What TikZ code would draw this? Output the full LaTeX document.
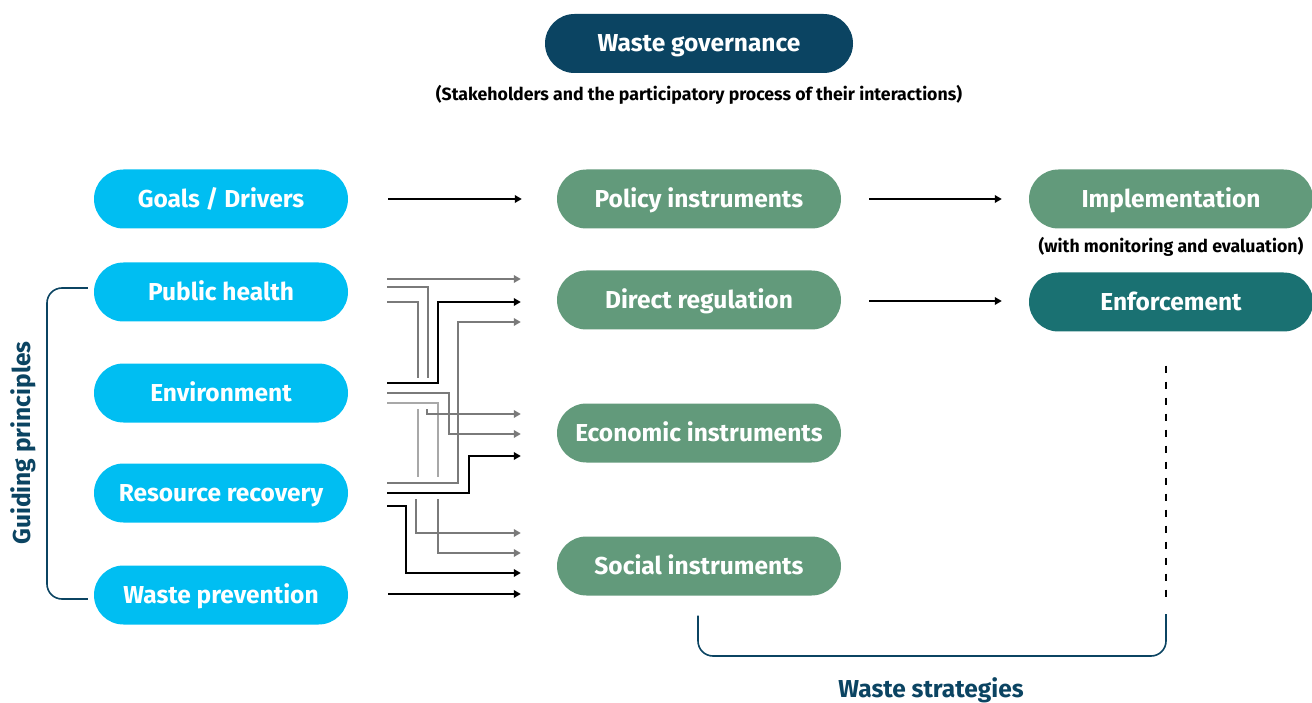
\documentclass[tikz,border=0pt]{standalone}
\usepackage{fontspec}
\setmainfont{Fira Sans}
\usetikzlibrary{arrows.meta,calc}
\definecolor{navy}{HTML}{0B4462}
\definecolor{cyanbox}{HTML}{00BEF2}
\definecolor{greenbox}{HTML}{629A7B}
\definecolor{tealbox}{HTML}{1A7172}
\definecolor{gline}{HTML}{7A7A7A}
\definecolor{lgline}{HTML}{A8A8A8}
\tikzset{
  pill/.style={rectangle, rounded corners=29.5pt, minimum height=59pt, text=white,
    font=\fontsize{24.5}{28}\selectfont\bfseries, inner sep=0pt, text height=17pt, text depth=0pt},
  leftpill/.style={pill, fill=cyanbox, minimum width=254pt},
  midpill/.style={pill, fill=greenbox, minimum width=284pt},
  note/.style={font=\fontsize{17.7}{21}\selectfont\bfseries, text=black, inner sep=0pt},
  conn/.style={line width=2pt, -{Triangle[length=7pt,width=7.5pt]}},
  plain/.style={line width=2pt},
  blk/.style={draw=black, color=black},
  gry/.style={draw=gline, color=gline},
  lgry/.style={draw=lgline, color=lgline},
  brace/.style={draw=navy, line width=1.6pt, rounded corners=15pt},
  biglabel/.style={text=navy, font=\fontsize{24.5}{28}\selectfont\bfseries, inner sep=0pt},
}
\begin{document}
\begin{tikzpicture}[x=1pt,y=-1pt]
\useasboundingbox (0,0) rectangle (1312,703);

% top
\node[pill, fill=navy, minimum width=308pt] (gov) at (699,43.5) {Waste governance};
\node[note] (sub) at (699,95) {(Stakeholders and the participatory process of their interactions)};

% left column
\node[leftpill] (goals) at (221,199) {Goals / Drivers};
\node[leftpill] (ph) at (221,292) {Public health};
\node[leftpill] (env) at (221,393) {Environment};
\node[leftpill] (rr) at (221,493) {Resource recovery};
\node[leftpill] (wp) at (221,595) {Waste prevention};

% middle column
\node[midpill] (pol) at (699,199) {Policy instruments};
\node[midpill] (dr) at (699,300) {Direct regulation};
\node[midpill] (eco) at (699,433) {Economic instruments};
\node[midpill] (soc) at (699,566) {Social instruments};

% right column
\node[midpill] (impl) at (1171,199) {Implementation};
\node[note] (mon) at (1171,247) {(with monitoring and evaluation)};
\node[pill, fill=tealbox, minimum width=284pt] (enf) at (1171,302) {Enforcement};

% labels
\node[biglabel, rotate=90] (gp) at (23,443) {Guiding principles};
\node[biglabel] (ws) at (931,690) {Waste strategies};

% brackets
\coordinate (gpt) at ($(ph.west)+(-6,-4)$);
\coordinate (gpb) at ($(wp.west)+(-6,4)$);
\draw[brace] (gpt) -- (47,288) -- (47,599) -- (gpb);
\coordinate (wsl) at ($(soc.south)+(-1,20)$);
\coordinate (wsr) at (1166,614);
\draw[brace] (wsl) -- (698,656) -- (1166,656) -- (wsr);
\coordinate (dtop) at ($(enf.south)+(-5,34)$);
\draw[line width=2pt, dash pattern=on 7pt off 9pt] (dtop) -- (1166,603);

% main arrows
\draw[conn, blk] ($(goals.east)+(40,0)$) -- ($(pol.west)+(-35,0)$);
\draw[conn, blk] ($(pol.east)+(28,0)$) -- ($(impl.west)+(-27,0)$);
\draw[conn, blk] ($(dr.east)+(28,1)$) -- ($(enf.west)+(-27,-1)$);
\draw[conn, blk] ($(wp.east)+(40,-1)$) -- ($(soc.west)+(-36,28)$);

% light grey (drawn first, underneath)
\draw[plain, lgry] ($(env.east)+(39,10)$) -| (438,477);
\draw[plain, lgry] (418,409) -- (418,477);

% from public health
\draw[conn, gry] ($(ph.east)+(39,-13)$) -- ($(dr.west)+(-36,-21)$);
\draw[plain, gry] ($(ph.east)+(39,-5)$) -| (428,378);
\draw[plain, gry] ($(ph.east)+(39,10)$) -| (418,378);

% from environment
\draw[conn, gry] ($(env.east)+(39,0)$) -| (449,434) -- ($(eco.west)+(-36,1)$);
\draw[conn, gry] (427,409) |- ($(eco.west)+(-36,-19)$);

% from resource recovery
\draw[conn, gry] ($(rr.east)+(39,-10)$) -| (458,322) -- ($(dr.west)+(-36,22)$);
\draw[conn, gry] (416,499) |- ($(soc.west)+(-36,-33)$);
\draw[conn, gry] (438,499) |- ($(soc.west)+(-36,-13)$);
\draw[conn, blk] ($(env.east)+(39,-10)$) -| (438,302) -- ($(dr.west)+(-36,2)$);
\draw[conn, blk] ($(rr.east)+(39,0)$) -| (469,456) -- ($(eco.west)+(-36,23)$);
\draw[conn, blk] ($(rr.east)+(39,13)$) -| (406,573) -- ($(soc.west)+(-36,7)$);
\end{tikzpicture}
\end{document}
